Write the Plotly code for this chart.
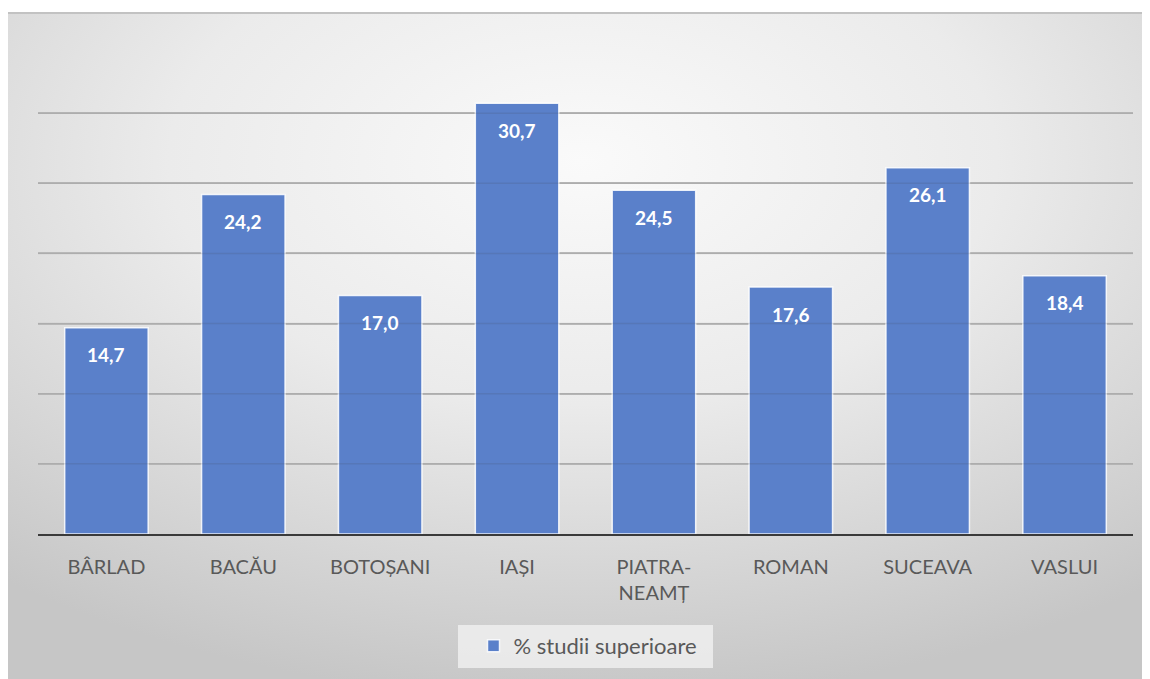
import base64
import plotly.graph_objects as go

categories = ["BÂRLAD", "BACĂU", "BOTOȘANI", "IAȘI", "PIATRA-<br>NEAMȚ", "ROMAN", "SUCEAVA", "VASLUI"]
values = [14.7, 24.2, 17.0, 30.7, 24.5, 17.6, 26.1, 18.4]
series_name = "% studii superioare"
grid_ticks = [5, 10, 15, 20, 25, 30, 35]

BAR_COLOR = "#5A80CA"
FONT = "Lato, 'Open Sans', sans-serif"

# page has an 8px body margin: figure coords = window coords - 8
L, T, R, B = 30, 35, 25, 153
W, H = 1150, 679
PW, PH = W - L - R, H - T - B

def px_x(x):
    return (x - L) / PW

def px_y(y):
    return (H - B - y) / PH

svg = """<svg xmlns='http://www.w3.org/2000/svg' width='1142' height='666' preserveAspectRatio='none'>
<defs><radialGradient id='g' cx='0.5' cy='0.22' r='0.8' fx='0.5' fy='0.22'>
<stop offset='0' stop-color='#fafafa'/>
<stop offset='0.45' stop-color='#ebebeb'/>
<stop offset='1' stop-color='#c6c6c6'/>
</radialGradient></defs>
<rect width='1142' height='666' fill='url(#g)'/>
</svg>"""
svg_uri = "data:image/svg+xml;base64," + base64.b64encode(svg.encode()).decode()

fig = go.Figure()
fig.add_trace(go.Bar(
    x=categories, y=values, name=series_name,
    marker=dict(color=BAR_COLOR, line=dict(color="rgba(255,255,255,0.85)", width=1.5)),
    showlegend=True,
))

for c, v in zip(categories, values):
    fig.add_annotation(
        x=c, y=v, xref="x", yref="y", text="<b>" + f"{v:.1f}".replace(".", ",") + "</b>",
        showarrow=False, yshift=-27, font=dict(family=FONT, size=19, color="white"),
    )

# faint gridlines showing through bars
for t in grid_ticks[:-1]:
    fig.add_shape(type="line", xref="paper", yref="y", x0=0, x1=1, y0=t, y1=t,
                  line=dict(color="rgba(60,60,60,0.12)", width=1.5), layer="above")

# background frame
x0p, x1p = px_x(0), px_x(1150)
y1p, y0p = px_y(5), px_y(679)
fig.add_layout_image(dict(source=svg_uri, xref="paper", yref="paper", x=x0p, y=y1p,
                          sizex=x1p - x0p, sizey=y1p - y0p, sizing="stretch",
                          xanchor="left", yanchor="top", layer="below"))
fig.add_shape(type="line", xref="paper", yref="paper", x0=x0p, x1=x1p, y0=y1p, y1=y1p,
              line=dict(color="#c2c2c2", width=2))

# legend box
fig.add_shape(type="rect", xref="paper", yref="paper",
              x0=px_x(450), x1=px_x(705), y0=px_y(617), y1=px_y(660),
              line=dict(width=0), fillcolor="rgba(238,238,238,0.85)", layer="below")

fig.update_layout(
    width=W, height=H,
    margin=dict(l=L, r=R, t=T, b=B),
    paper_bgcolor="white", plot_bgcolor="rgba(0,0,0,0)",
    bargap=0.39,
    font=dict(family=FONT, color="#595959"),
    xaxis=dict(showline=True, linecolor="#3a3a3a", linewidth=2, ticks="",
               tickfont=dict(size=20, color="#595959"), showgrid=False,
               ticklabelstandoff=14),
    yaxis=dict(range=[0, 35], dtick=5, showticklabels=False, showgrid=True,
               gridcolor="#bdbdbd", gridwidth=1.5, zeroline=False, ticks=""),
    legend=dict(orientation="h", x=px_x(580), xanchor="center", y=px_y(638), yanchor="middle",
                bgcolor="rgba(0,0,0,0)", font=dict(size=22, color="#595959"),
                itemwidth=30),
)

fig.write_html("out.html")
